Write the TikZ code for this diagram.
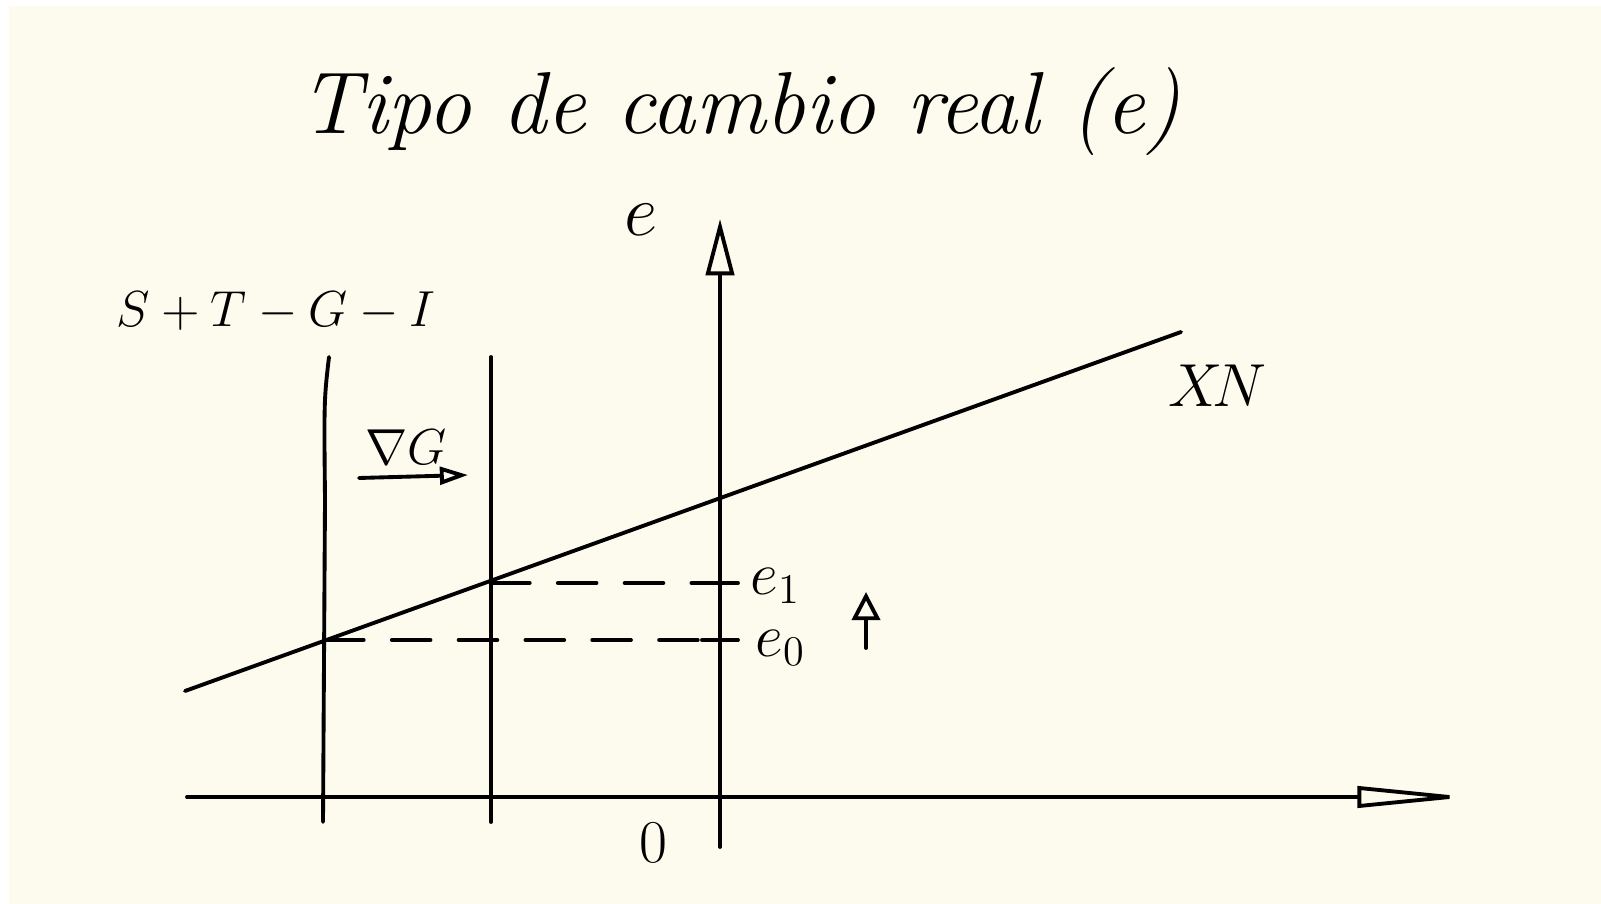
\documentclass[tikz,border=0pt]{standalone}
\usetikzlibrary{arrows.meta}
\definecolor{paper}{RGB}{253,251,237}

\begin{document}
\begin{tikzpicture}[x=0.01cm,y=-0.01cm,line width=1.1pt,line cap=round]
\fill[white] (0,0) rectangle (1601,904);
\fill[paper] (9,6) rectangle (1601,904);
\coordinate (O) at (720,797); \coordinate (Ytop) at (720,219); \coordinate (Ybot) at (720,847);
\coordinate (Xl) at (187,797); \coordinate (Xr) at (1470,797);
\coordinate (A) at (185,691); \coordinate (B) at (1181,332);
\coordinate (E0) at (325,640); \coordinate (E1) at (491,583);
\coordinate (S0t) at (329,357); \coordinate (S0b) at (323,822);
\coordinate (S1t) at (491,357); \coordinate (S1b) at (491,822);
% axes
\draw[-{Triangle[open,length=32pt,width=6pt]}] (Xl)--(Xr);
\draw[-{Triangle[open,length=16pt,width=8pt]}] (Ybot)--(Ytop);
% XN and the two S+T-G-I lines
\draw (A)--(B);
\draw (S0t) .. controls (324,400) .. (325,500) -- (S0b);
\draw (S1t)--(S1b);
\draw[dash pattern=on 11pt off 8pt] (E0)--(E0 -| O);
\draw[dash pattern=on 11pt off 8pt] (E1)--(E1 -| O);
\draw (E0 -| O) ++(-18,0) -- ++(36,0);
\draw (E1 -| O) ++(-18,0) -- ++(36,0);
% shift of G and rise of e
\coordinate (G0) at (359,478); \coordinate (G1) at (468,475);
\draw[-{Triangle[open,length=8pt,width=5pt]}] (G0)--(G1);
\coordinate (U0) at (866,648); \coordinate (U1) at (866,592);
\draw[-{Triangle[open,length=8pt,width=8pt]}] (U0)--(U1);
% labels
\node (title) at (740,112) {\fontsize{25}{30}\selectfont\itshape Tipo de cambio real (e)};
\node (ye) at (641,220) {\fontsize{20}{24}\selectfont$e$};
\node (stgi) at (276,311) {\fontsize{14}{17}\selectfont$S+T-G-I$};
\node (dG) at (406,447) {\fontsize{15}{18}\selectfont$\nabla G$};
\node (xn) at (1217,386) {\fontsize{16}{19}\selectfont$X\!N$};
\node[anchor=west,inner sep=1pt] (e1) at (745,586) {\fontsize{18}{22}\selectfont$e_1$};
\node[anchor=west,inner sep=1pt] (e0) at (750,648) {\fontsize{18}{22}\selectfont$e_0$};
\node (zero) at (653,843) {\fontsize{16}{19}\selectfont$0$};
\end{tikzpicture}
\end{document}
